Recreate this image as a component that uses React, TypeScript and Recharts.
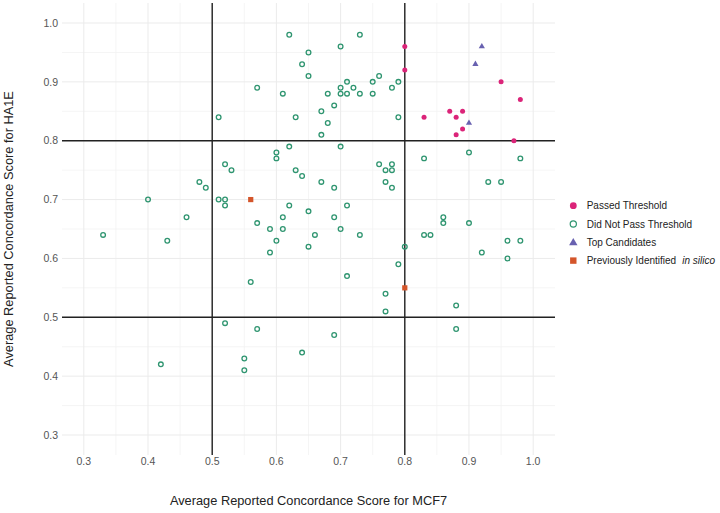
import React from 'react';
import { ScatterChart, Scatter, XAxis, YAxis, ReferenceLine, Legend, Label } from 'recharts';

// ---- data (MCF7 score = x, HA1E score = y) ----
const passedX = [0.8, 0.8, 0.95, 0.98, 0.83, 0.87, 0.89, 0.88, 0.89, 0.88, 0.97];
const passedY = [0.96, 0.92, 0.9, 0.87, 0.84, 0.85, 0.85, 0.84, 0.82, 0.81, 0.8];

const topX = [0.92, 0.91, 0.9];
const topY = [0.96, 0.93, 0.83];

const prevX = [0.56, 0.8];
const prevY = [0.7, 0.55];

const notPassedX = [
  0.62, 0.73, 0.7, 0.65, 0.64, 0.65, 0.76, 0.71, 0.75, 0.79, 0.7, 0.72, 0.78, 0.57, 0.61, 0.68, 0.7, 0.71, 0.73, 0.75,
  0.69, 0.67, 0.51, 0.63, 0.79, 0.68, 0.67,
  0.62, 0.7, 0.6, 0.6, 0.52, 0.53, 0.76, 0.78, 0.77, 0.78, 0.63, 0.64, 0.67, 0.77, 0.69, 0.78, 0.48, 0.49, 0.4, 0.51,
  0.52, 0.52, 0.62, 0.71, 0.65, 0.61, 0.69, 0.46, 0.57, 0.59, 0.61, 0.7, 0.33, 0.66, 0.73, 0.43, 0.6, 0.59, 0.65, 0.8,
  0.79, 0.56, 0.71, 0.77, 0.77,
  0.9, 0.83, 0.98, 0.93, 0.95, 0.86, 0.86, 0.9, 0.83, 0.84, 0.96, 0.98, 0.92, 0.96, 0.88, 0.88,
  0.52, 0.57, 0.69, 0.64, 0.55, 0.55, 0.42,
];
const notPassedY = [
  0.98, 0.98, 0.96, 0.95, 0.93, 0.91, 0.91, 0.9, 0.9, 0.9, 0.89, 0.89, 0.89, 0.89, 0.88, 0.88, 0.88, 0.88, 0.88, 0.88,
  0.86, 0.85, 0.84, 0.84, 0.84, 0.83, 0.81,
  0.79, 0.79, 0.78, 0.77, 0.76, 0.75, 0.76, 0.76, 0.75, 0.75, 0.75, 0.74, 0.73, 0.73, 0.72, 0.72, 0.73, 0.72, 0.7, 0.7,
  0.7, 0.69, 0.69, 0.69, 0.68, 0.67, 0.67, 0.67, 0.66, 0.65, 0.65, 0.65, 0.64, 0.64, 0.64, 0.63, 0.63, 0.61, 0.62, 0.62,
  0.59, 0.56, 0.57, 0.54, 0.51,
  0.78, 0.77, 0.77, 0.73, 0.73, 0.67, 0.66, 0.66, 0.64, 0.64, 0.63, 0.63, 0.61, 0.6, 0.52, 0.48,
  0.49, 0.48, 0.47, 0.44, 0.43, 0.41, 0.42,
];

const majorTicks = [0.3, 0.4, 0.5, 0.6, 0.7, 0.8, 0.9, 1.0];
const minorTicks = [0.35, 0.45, 0.55, 0.65, 0.75, 0.85, 0.95];
const thresholdLines = [0.5, 0.8];
const axisDomain = [0.266, 1.034];

const legendLabels = ['Passed Threshold', 'Did Not Pass Threshold', 'Top Candidates', 'Previously Identified'];
const legendItalic = 'in silico';
const xTitle = 'Average Reported Concordance Score for MCF7';
const yTitle = 'Average Reported Concordance Score for HA1E';

// ---- styles ----
const FONT = '"Liberation Sans", Arial, Helvetica, sans-serif';
const PINK = '#DB2479';
const GREEN = '#2F9570';
const PURPLE = '#6861B0';
const ORANGE = '#D4552A';
const GRID = '#ebebeb';
const GRID_MINOR = '#f3f3f3';

const toPoints = (xs: number[], ys: number[]) => xs.map((x, i) => ({ x, y: ys[i] }));
const passed = toPoints(passedX, passedY);
const top = toPoints(topX, topY);
const prev = toPoints(prevX, prevY);
const notPassed = toPoints(notPassedX, notPassedY);

const FilledCircle = (p: any) => <circle cx={p.cx} cy={p.cy} r={2.5} fill={PINK} />;
const OpenCircle = (p: any) => (
  <circle cx={p.cx} cy={p.cy} r={2.35} fill="none" stroke={GREEN} strokeWidth={1.3} />
);
const Triangle = (p: any) => {
  const h = 5.4;
  const w = 6.2;
  const { cx, cy } = p;
  return (
    <path
      d={`M${cx},${cy - (2 * h) / 3} L${cx + w / 2},${cy + h / 3} L${cx - w / 2},${cy + h / 3} Z`}
      fill={PURPLE}
    />
  );
};
const Square = (p: any) => <rect x={p.cx - 2.6} y={p.cy - 2.6} width={5.2} height={5.2} fill={ORANGE} />;

const renderLegend = () => {
  const rowY = [9.7, 28, 46.3, 64.6];
  const sx = 13.3;
  const tx = 26.7;
  return (
    <svg width={160} height={76} style={{ display: 'block' }}>
      <circle cx={sx} cy={rowY[0]} r={3.4} fill={PINK} />
      <circle cx={sx} cy={rowY[1]} r={3.1} fill="none" stroke={GREEN} strokeWidth={1.2} />
      <path
        d={`M${sx},${rowY[2] - 4.4} L${sx + 4.2},${rowY[2] + 3} L${sx - 4.2},${rowY[2] + 3} Z`}
        fill={PURPLE}
      />
      <rect x={sx - 3.2} y={rowY[3] - 3.2} width={6.4} height={6.4} fill={ORANGE} />
      {legendLabels.map((l, i) => (
        <text
          key={l}
          x={tx}
          y={rowY[i] + 3.6}
          fontSize={10}
          fontFamily={FONT}
          fill="#222"
        >
          {l}
          {i === 3 ? (
            <tspan dx={6} fontStyle="italic">
              {legendItalic}
            </tspan>
          ) : null}
        </text>
      ))}
    </svg>
  );
};

export default function App() {
  return (
    <div style={{ position: 'absolute', left: 0, top: 0, width: 720, height: 513, background: '#fff' }}>
      <ScatterChart width={720} height={513} margin={{ top: 3, right: 165, bottom: 0, left: 0 }}>
        {minorTicks.map((v) => (
          <ReferenceLine key={`mx${v}`} x={v} stroke={GRID_MINOR} strokeWidth={0.8} />
        ))}
        {minorTicks.map((v) => (
          <ReferenceLine key={`my${v}`} y={v} stroke={GRID_MINOR} strokeWidth={0.8} />
        ))}
        {majorTicks.map((v) => (
          <ReferenceLine key={`gx${v}`} x={v} stroke={GRID} strokeWidth={1} />
        ))}
        {majorTicks.map((v) => (
          <ReferenceLine key={`gy${v}`} y={v} stroke={GRID} strokeWidth={1} />
        ))}
        <XAxis
          type="number"
          dataKey="x"
          domain={axisDomain}
          ticks={majorTicks}
          allowDataOverflow
          axisLine={false}
          tickLine={false}
          tickSize={0}
          tickMargin={3}
          height={58}
          tickFormatter={(v: number) => v.toFixed(1)}
          tick={{ fontSize: 10.5, fill: '#555', fontFamily: FONT }}
        >
          <Label
            content={(props: any) => {
              const vb = props.viewBox;
              return (
                <text
                  x={vb.x + vb.width / 2}
                  y={vb.y + 50.3}
                  textAnchor="middle"
                  fontSize={12.8}
                  fontFamily={FONT}
                  fill="#222"
                >
                  {xTitle}
                </text>
              );
            }}
          />
        </XAxis>
        <YAxis
          type="number"
          dataKey="y"
          domain={axisDomain}
          ticks={majorTicks}
          allowDataOverflow
          axisLine={false}
          tickLine={false}
          tickSize={0}
          tickMargin={4}
          width={62}
          tickFormatter={(v: number) => v.toFixed(1)}
          tick={{ fontSize: 10.5, fill: '#555', fontFamily: FONT }}
        >
          <Label
            content={(props: any) => {
              const vb = props.viewBox;
              const cx = vb.x + 13.3;
              const cy = vb.y + vb.height / 2;
              return (
                <text
                  x={cx}
                  y={cy}
                  transform={`rotate(-90, ${cx}, ${cy})`}
                  textAnchor="middle"
                  fontSize={12.8}
                  fontFamily={FONT}
                  fill="#222"
                >
                  {yTitle}
                </text>
              );
            }}
          />
        </YAxis>
        {thresholdLines.map((v) => (
          <ReferenceLine key={`tx${v}`} x={v} stroke="#222" strokeWidth={1.4} />
        ))}
        {thresholdLines.map((v) => (
          <ReferenceLine key={`ty${v}`} y={v} stroke="#222" strokeWidth={1.4} />
        ))}
        <Scatter name="Did Not Pass Threshold" data={notPassed} shape={OpenCircle} isAnimationActive={false} />
        <Scatter name="Passed Threshold" data={passed} shape={FilledCircle} isAnimationActive={false} />
        <Scatter name="Top Candidates" data={top} shape={Triangle} isAnimationActive={false} />
        <Scatter name="Previously Identified in silico" data={prev} shape={Square} isAnimationActive={false} />
        <Legend
          layout="vertical"
          align="center"
          verticalAlign="middle"
          content={renderLegend}
          wrapperStyle={{ position: 'absolute', left: 560, top: 196, width: 160, height: 76 }}
        />
      </ScatterChart>
    </div>
  );
}
